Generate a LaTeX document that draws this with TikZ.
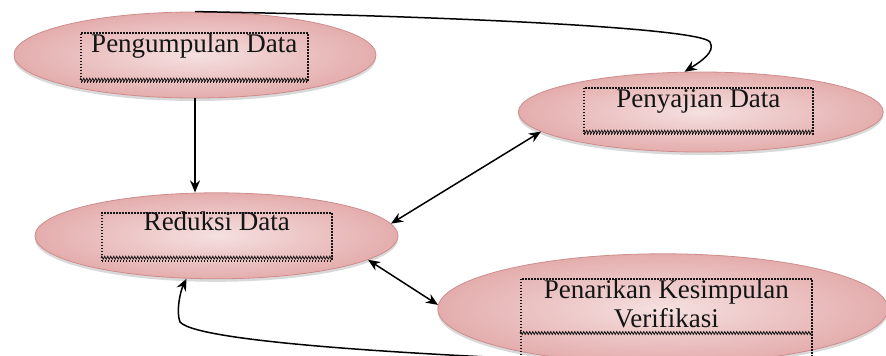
\documentclass[tikz,border=0pt]{standalone}
\usepackage{fontspec}
\setmainfont{Liberation Serif}
\usepackage{xcolor}
\definecolor{cPinkIn}{HTML}{F5E0E0}
\definecolor{cPinkOut}{HTML}{E4ADAD}
\definecolor{cPinkEdge}{HTML}{D08C8C}
\definecolor{cInk}{HTML}{141414}
\usepackage{tikz}
\usetikzlibrary{positioning,arrows.meta,shapes.geometric,shadows,%
  decorations.pathmorphing,backgrounds}
\tikzset{
  node-ellipse/.style={ellipse,draw=cPinkEdge,line width=0.8pt,
    inner color=cPinkIn,outer color=cPinkOut,inner sep=0pt,
    drop shadow={shadow xshift=0pt,shadow yshift=-3pt,opacity=.3}},
  node-frame/.style={draw=cInk,line width=1.7pt,dash pattern=on 1.5pt off 1.5pt,
    inner sep=0pt,anchor=north west,text height=20pt,align=center,
    font=\fontsize{27pt}{29pt}\selectfont,text=cInk},
  % garis bergelombang di bawah kotak teks
  wavy/.style={draw=cInk,line width=0.8pt,decorate,
    decoration={zigzag,segment length=3pt,amplitude=1.4pt}},
  arrow/.style={-{Stealth[length=12pt,width=10pt]},line width=1.5pt,draw=black},
  arrow-both/.style={{Stealth[length=12pt,width=10pt]}-{Stealth[length=12pt,width=10pt]},
    line width=1.5pt,draw=black},
}
\begin{document}
\begin{tikzpicture}[x=1pt,y=-1pt]
  \useasboundingbox (0,0) rectangle (886,356);
  \node[node-ellipse,minimum width=362pt,minimum height=86pt] (kumpul) at (195,55) {};
  \node[node-ellipse,minimum width=363pt,minimum height=86pt,
    below=94pt of kumpul,xshift=21.5pt] (reduksi) {};
  \node[node-ellipse,minimum width=365pt,minimum height=80pt,
    right=141.5pt of kumpul,yshift=-57pt] (sajian) {};
  \node[node-ellipse,minimum width=450pt,minimum height=110pt,
    right=39pt of reduksi,yshift=-73pt] (tarik) {};

  \node[node-frame,minimum width=227pt,text depth=29pt] (kumpul-box) at (80,32) {Pengumpulan Data};
  \node[node-frame,minimum width=229pt,text depth=26pt] (sajian-box) at (583,87) {Penyajian Data};
  \node[node-frame,minimum width=230pt,text height=18pt,text depth=30pt] (reduksi-box) at (101,212) {Reduksi Data};
  \node[node-frame,minimum width=291pt,text height=49pt,text depth=38pt] (tarik-box) at (520,278) {Penarikan Kesimpulan\\Verifikasi};
  \draw[wavy] ([yshift=3pt]kumpul-box.south west) -- ([yshift=3pt]kumpul-box.south east);
  \draw[wavy] ([yshift=3pt]sajian-box.south west) -- ([yshift=3pt]sajian-box.south east);
  \draw[wavy] ([yshift=4pt]reduksi-box.south west) -- ([yshift=4pt]reduksi-box.south east);
  \draw[wavy] ([yshift=-55pt]tarik-box.north west) -- ([yshift=-55pt]tarik-box.north east);

  \draw[arrow] (kumpul.south) -- (kumpul.south |- reduksi.north);
  \draw[arrow-both] (reduksi.4) -- (sajian.187);
  \draw[arrow-both] (reduksi.351) -- (tarik.179);
  \draw[arrow] (kumpul.north) .. controls (450,16) and (700,28) .. (710,42)
    .. controls (716,52) and (700,62) .. (sajian.112);
  \begin{scope}[on background layer]
    \draw[arrow] (tarik.south) .. controls (480,358) and (200,345) .. (180,322)
      .. controls (176,312) and (180,292) .. (reduksi.235);
  \end{scope}
\end{tikzpicture}
\end{document}
